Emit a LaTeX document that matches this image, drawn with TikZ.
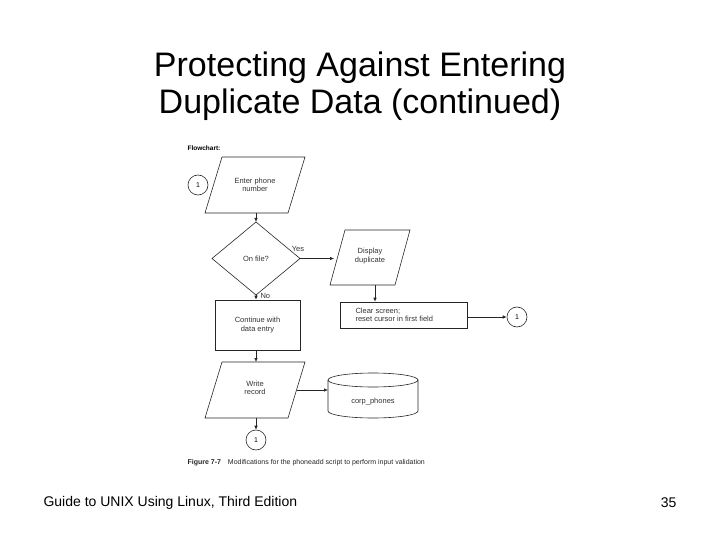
\documentclass[tikz,border=0pt]{standalone}
\usepackage{fontspec}
\setmainfont{Liberation Sans}
\usetikzlibrary{arrows.meta,shapes.geometric}
\begin{document}
\begin{tikzpicture}[x=1pt,y=-1pt,
  ln/.style={draw=black!85,line width=0.6pt},
  arr/.style={ln,-{Latex[length=4pt,width=3.5pt]}},
  sm/.style={font=\fontsize{7.5}{8.5}\selectfont,align=center,text=black!80},
  conn/.style={circle,ln,minimum size=20pt,inner sep=0pt,font=\fontsize{7}{8}\selectfont}]
\useasboundingbox (0,0) rectangle (720,540);
\node (t1) at (360,68) {\fontsize{34}{36}\selectfont Protecting Against Entering};
\node (t2) at (360,105) {\fontsize{34}{36}\selectfont Duplicate Data (continued)};
\node[anchor=west] (f1) at (40,503) {\fontsize{14}{15}\selectfont Guide to UNIX Using Linux, Third Edition};
\node[anchor=east] (f2) at (680,503) {\fontsize{14}{15}\selectfont 35};
\node[anchor=west,font=\bfseries\fontsize{6.5}{7}\selectfont] (fc) at (184,148) {Flowchart:};
\node[conn] (c1) at (198,185) {1};
% enter phone
\draw[ln] (222,157) -- (305,157) -- (288,213) -- (205,213) -- cycle;
\node[sm] (ep) at (255,185) {Enter phone\\number};
\coordinate (epb) at (256,213);
% diamond
\coordinate (dn) at (256,222);
\coordinate (ds) at (256,295);
\coordinate (dw) at (212,258.5);
\coordinate (de) at (300,258.5);
\draw[ln] (dn) -- (de) -- (ds) -- (dw) -- cycle;
\node[sm] (d) at (256,258.5) {On file?};
\draw[arr] (epb) -- (dn);
\node[sm,anchor=south] (yes) at (298,255) {Yes};
\node[sm,anchor=west] (no) at (257,296) {No};
% display duplicate
\draw[ln] (345,230) -- (410,230) -- (395,285) -- (330,285) -- cycle;
\node[sm] (dd) at (370,256) {Display\\duplicate};
\coordinate (ddl) at (334,258.5);
\coordinate (ddb) at (375,285);
\draw[arr] (de) -- (ddl);
% clear screen
\node[ln,minimum width=127pt,minimum height=26pt,inner sep=0pt] (cs) at (403.5,315) {};
\node[sm,align=left,anchor=west] (cst) at (352,315) {Clear screen;\\reset cursor in first field};
\draw[arr] (ddb) -- (ddb|-cs.north);
\node[conn] (c2) at (517,317) {1};
\draw[arr] (cs.east|-c2) -- (c2.west);
% continue
\node[ln,minimum width=85pt,minimum height=50pt,inner sep=0pt,sm] (ce) at (257.5,325) {Continue with\\data entry};
\draw[arr] (ds) -- (ce.north-|ds);
% write record
\draw[ln] (222,362) -- (305,362) -- (288,418) -- (205,418) -- cycle;
\node[sm] (wr) at (255,388) {Write\\record};
\coordinate (wrt) at (256,362);
\coordinate (wrr) at (297,390);
\coordinate (wrb) at (256,418);
\draw[arr] (ce.south-|ds) -- (wrt);
% cylinder
\draw[ln] (373,380) ellipse [x radius=45pt,y radius=7pt];
\draw[ln] (328,380) -- (328,411) arc[start angle=180,end angle=360,x radius=45pt,y radius=7pt] -- (418,380);
\node[sm] (db) at (373,402) {corp\_phones};
\coordinate (dbw) at (328,390);
\draw[arr] (wrr) -- (dbw);
\node[conn] (c3) at (256,440) {1};
\draw[arr] (wrb) -- (c3.north);
\node[anchor=west,font=\fontsize{7}{8}\selectfont,text=black!85] (cap) at (184,463) {\textbf{Figure 7-7}\quad Modifications for the phoneadd script to perform input validation};
\end{tikzpicture}
\end{document}
